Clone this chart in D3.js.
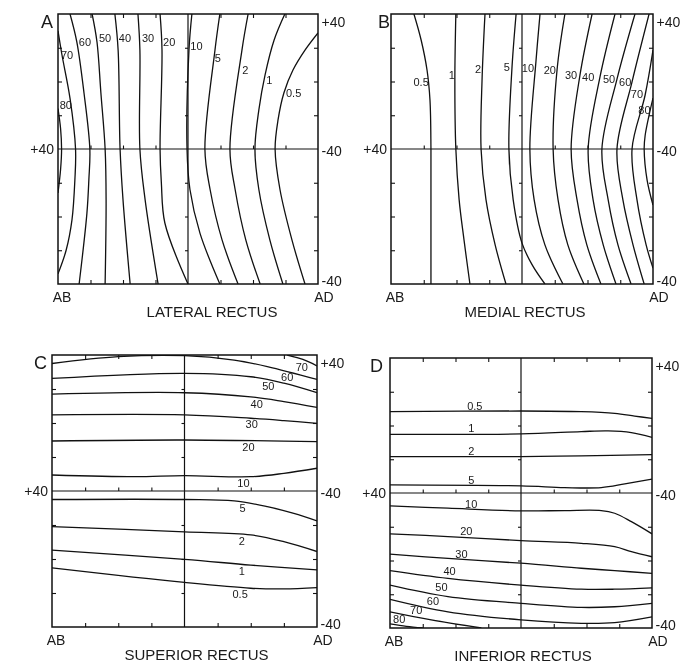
<!DOCTYPE html>
<html>
<head>
<meta charset="utf-8">
<script src="https://cdn.jsdelivr.net/npm/d3@7"></script>
<style>
  body { margin: 0; background: #fff; }
  svg { display: block; will-change: transform; }
  text { font-family: 'Liberation Sans', Arial, sans-serif; fill: #1a1a1a; }
</style>
</head>
<body>
<svg id="viz" width="698" height="664"></svg>
<script>
// all values in degrees: horizontal AB = -40 ... AD = +40, vertical -40 (down) ... +40 (up)
const tickDeg = [-30, -20, -10, 10, 20, 30];
const rightLabels = ['+40', '-40', '-40'];
const rightAt = [40, 0, -40];
const leftLabel = '+40';
const endLabels = ['AB', 'AD'];

// A - lateral rectus
const latLevels = ['80', '70', '60', '50', '40', '30', '20', '10', '5', '2', '1', '0.5'];
const latLines = [
  [[-40, 12], [-39.2, 6], [-38.9, 0], [-39.2, -6], [-40, -13]],
  [[-40, 35], [-38.8, 28], [-36.3, 15], [-34.6, 0], [-34.8, -9], [-35.7, -21], [-37.5, -30], [-40, -37]],
  [[-36.3, 40], [-34.2, 31.7], [-32, 16.6], [-30.2, 0], [-30.5, -9], [-31.1, -19], [-33.5, -40]],
  [[-29.5, 40], [-28, 31.7], [-26.8, 16.6], [-25.5, 0], [-25.2, -15], [-25.5, -40]],
  [[-22.5, 40], [-21.5, 29.3], [-20.9, 0], [-20, -15], [-17.8, -40]],
  [[-15.4, 40], [-14.8, 29.3], [-14.8, 0], [-13.2, -15], [-9.2, -40]],
  [[-8.6, 40], [-8, 29.3], [-8.6, 0], [-8.2, -10], [-7.1, -22], [0, -40]],
  [[1.2, 40], [0.3, 29.3], [-0.3, 0], [0.6, -12], [3.7, -25], [9.8, -40]],
  [[9.8, 40], [8.3, 29.3], [5.2, 0], [6.8, -12], [10.5, -27], [15.4, -40]],
  [[18.5, 40], [16.6, 29.3], [12.9, 0], [14.5, -12], [17.8, -27], [22.2, -40]],
  [[29.8, 40], [26.5, 32.3], [23.7, 21.9], [21.8, 11.6], [20.6, 0], [21.8, -12], [25.2, -27], [29.2, -40]],
  [[40, 34.4], [36, 29.3], [32.3, 23.4], [29.5, 16.6], [27.7, 8.6], [26.8, 0], [28.3, -12], [32, -27], [36, -40]]
];
const latLabelAt = [
  [-37.6, 13], [-37.2, 27.9], [-31.7, 31.7], [-25.5, 32.9], [-19.4, 32.9], [-12.3, 32.9],
  [-5.8, 31.7], [2.6, 30.5], [9.2, 27], [17.6, 23.4], [25, 20.4], [32.5, 16.6]
];

// B - medial rectus
const medLevels = ['0.5', '1', '2', '5', '10', '20', '30', '40', '50', '60', '70', '80'];
const medLines = [
  [[-33, 40], [-30.8, 32.3], [-29, 23.4], [-28.1, 14.5], [-27.8, 0], [-27.8, -18], [-27.8, -40]],
  [[-20.2, 40], [-20.5, 20.4], [-20.2, 0], [-19.2, -15], [-17.7, -27], [-15.9, -40]],
  [[-11.3, 40], [-12.2, 20.4], [-12.5, 0], [-11, -15], [-8.2, -28.4], [-4.9, -40]],
  [[-1.8, 40], [-3.1, 23.4], [-4, 0], [-2.7, -15], [0, -27.9], [3.2, -34.5], [7, -40]],
  [[5.5, 40], [4.3, 26.4], [2.4, 0], [3.7, -15], [7, -28.4], [12.5, -40]],
  [[13.1, 40], [10.7, 23.4], [9.5, 0], [11, -15], [14, -28.4], [18.9, -40]],
  [[21.4, 40], [17.7, 21.9], [15, 0], [16.8, -15], [19.8, -28.4], [24.1, -40]],
  [[28.4, 40], [23.8, 21.3], [20.2, 0], [21.7, -15], [24.8, -28.4], [28.7, -40]],
  [[34.5, 40], [29, 20.7], [24.4, 0], [26.3, -15], [29.3, -28.4], [33.3, -40]],
  [[38.8, 40], [33.6, 19.9], [29, 0], [30.8, -15], [33.9, -28.4], [37.3, -40]],
  [[40, 29.3], [37.6, 16], [33.6, 0], [35.1, -15], [37.9, -28.4], [40, -35.3]],
  [[40, 15.1], [38.8, 10], [37.6, 4], [37.3, 0], [38.2, -9.2], [40, -16.6]]
];
const medLabelAt = [
  [-30.8, 19.9], [-21.4, 21.9], [-13.4, 23.7], [-4.6, 24.3], [1.8, 24], [8.5, 23.4],
  [15, 21.9], [20.2, 21.3], [26.6, 20.7], [31.5, 19.9], [35.1, 16.3], [37.4, 11.6]
];

// C - superior rectus
const supLevels = ['70', '60', '50', '40', '30', '20', '10', '5', '2', '1', '0.5'];
const supLines = [
  [[31, 40], [34, 39.2], [37, 38.2], [40, 36.8]],
  [[-40, 37.5], [-20, 39.5], [0, 39.8], [15, 38.5], [25, 36.6], [40, 32.8]],
  [[-40, 33.1], [0, 34.6], [20, 33.6], [30, 31.7], [40, 28.9]],
  [[-40, 28.5], [0, 28.9], [20, 27.7], [30, 26.3], [40, 24.6]],
  [[-40, 22.4], [0, 22.4], [20, 21.4], [30, 20.7], [40, 19.9]],
  [[-40, 14.7], [0, 15], [40, 14.5]],
  [[-40, 4.7], [-15, 4.2], [0, 4.5], [20, 4.2], [30, 5.2], [40, 6.7]],
  [[-40, -2.5], [0, -2.5], [15, -2.9], [25, -4.6], [33, -6.6], [40, -8.8]],
  [[-40, -10.5], [0, -12], [20, -12.9], [30, -14.9], [40, -17.8]],
  [[-40, -17.4], [0, -20.1], [20, -21.8], [40, -23.2]],
  [[-40, -22.6], [0, -26.9], [20, -28.6], [30, -28.8], [40, -28.4]]
];
const supLabelAt = [
  [35.4, 36.5], [31, 33.4], [25.3, 30.8], [21.8, 25.7], [20.3, 19.6], [19.3, 13],
  [17.8, 2.5], [17.5, -4.9], [17.3, -14.6], [17.3, -23.6], [16.8, -30.4]
];

// D - inferior rectus
const infLevels = ['0.5', '1', '2', '5', '10', '20', '30', '40', '50', '60', '70', '80'];
const infLines = [
  [[-40, 24.1], [0, 24.3], [18.4, 24.1], [28.6, 23.6], [34.7, 22.8], [40, 22.1]],
  [[-40, 17.4], [0, 17.5], [18.4, 18.2], [26.6, 18.4], [33.7, 17.9], [40, 16.5]],
  [[-40, 10.8], [0, 10.8], [18.4, 11], [40, 11.4]],
  [[-40, 2.4], [0, 2.1], [13.3, 1.6], [24.5, 1.6], [31.7, 2.7], [40, 4.1]],
  [[-40, -3.8], [-22.3, -4.5], [0, -5.3], [13.3, -5.2], [24.5, -5.2], [28.6, -6], [33.7, -8.5], [40, -12.1]],
  [[-40, -12.1], [-22.3, -12.9], [0, -14.1], [18.4, -14.9], [28.6, -15.9], [33.7, -17.4], [40, -18.9]],
  [[-40, -18.1], [-22.3, -19.4], [0, -20.8], [18.4, -22.3], [28.6, -23], [40, -23.8]],
  [[-40, -23], [-22.3, -25.3], [0, -27.3], [18.4, -28.5], [28.6, -28.5], [40, -28.1]],
  [[-40, -27.3], [-22.3, -30.7], [0, -32.7], [18.4, -33.9], [28.6, -33.7], [40, -32.7]],
  [[-40, -31.5], [-22.3, -35.2], [0, -37.6], [18.4, -38.6], [28.6, -38.4], [40, -36.7]],
  [[-40, -35.2], [-27.4, -37.6], [-12.1, -40]],
  [[-40, -38.8], [-35, -39.5], [-30, -40]]
];
const infLabelAt = [
  [-14.1, 25.8], [-15.2, 19.2], [-15.2, 12.3], [-15.2, 3.9], [-15.2, -3.2], [-16.7, -11.3],
  [-18.2, -18], [-21.8, -23], [-24.3, -27.8], [-26.9, -31.9], [-32, -34.8], [-37.2, -37.4]
];

const ink = '#111';
const svg = d3.select('#viz');

const panels = [
  { letter: 'A', title: 'LATERAL RECTUS', levels: latLevels, lines: latLines, labelAt: latLabelAt,
    box: [58, 318, 14, 284], titleShift: 24, letterGap: 5 },
  { letter: 'B', title: 'MEDIAL RECTUS', levels: medLevels, lines: medLines, labelAt: medLabelAt,
    box: [391, 653, 14, 284], titleShift: 3, letterGap: 1 },
  { letter: 'C', title: 'SUPERIOR RECTUS', levels: supLevels, lines: supLines, labelAt: supLabelAt,
    box: [52, 317, 355, 627], titleShift: 12, letterGap: 5 },
  { letter: 'D', title: 'INFERIOR RECTUS', levels: infLevels, lines: infLines, labelAt: infLabelAt,
    box: [390, 652, 358, 628], titleShift: 2, letterGap: 7 }
];

panels.forEach(drawPanel);

function drawPanel(p, i) {
  const [x0, x1, y0, y1] = p.box;
  const x = d3.scaleLinear().domain([-40, 40]).range([x0, x1]);
  const y = d3.scaleLinear().domain([-40, 40]).range([y1, y0]);
  const g = svg.append('g');

  const clipId = 'clip' + i;
  g.append('clipPath').attr('id', clipId)
    .append('rect')
    .attr('x', x0).attr('y', y0)
    .attr('width', x1 - x0).attr('height', y1 - y0);

  // contour lines
  const line = d3.line()
    .x((d) => x(d[0]))
    .y((d) => y(d[1]))
    .curve(d3.curveCatmullRom.alpha(0.5));

  g.append('g')
    .attr('clip-path', `url(#${clipId})`)
    .selectAll('path')
    .data(p.lines)
    .join('path')
    .attr('d', line)
    .attr('fill', 'none')
    .attr('stroke', ink)
    .attr('stroke-width', 1.3);

  // cross lines through the primary position
  g.append('line')
    .attr('x1', x(-40)).attr('x2', x(40))
    .attr('y1', y(0)).attr('y2', y(0))
    .attr('stroke', ink).attr('stroke-width', 1.2);
  g.append('line')
    .attr('x1', x(0)).attr('x2', x(0))
    .attr('y1', y(-40)).attr('y2', y(40))
    .attr('stroke', ink).attr('stroke-width', 1.2);

  // frame
  g.append('rect')
    .attr('x', x0).attr('y', y0)
    .attr('width', x1 - x0).attr('height', y1 - y0)
    .attr('fill', 'none')
    .attr('stroke', ink)
    .attr('stroke-width', 1.5);

  // tick marks (10 degree steps)
  const tick = (axis, tx, ty, size) => {
    const a = g.append('g')
      .attr('transform', `translate(${tx},${ty})`)
      .call(axis.tickValues(tickDeg).tickSize(size).tickFormat(''));
    a.select('.domain').remove();
    a.selectAll('line').attr('stroke', ink).attr('stroke-width', 1.1);
  };
  tick(d3.axisBottom(x), 0, y0, 4);
  tick(d3.axisTop(x), 0, y1, 4);
  tick(d3.axisTop(x), 0, y(0), 3.5);
  tick(d3.axisRight(y), x0, 0, 4);
  tick(d3.axisLeft(y), x1, 0, 4);
  tick(d3.axisLeft(y), x(0), 0, 3);

  // contour values
  g.selectAll('text.lvl')
    .data(p.levels)
    .join('text')
    .attr('class', 'lvl')
    .attr('x', (d, k) => x(p.labelAt[k][0]))
    .attr('y', (d, k) => y(p.labelAt[k][1]))
    .attr('text-anchor', 'middle')
    .attr('dominant-baseline', 'central')
    .style('font-size', '11px')
    .text((d) => d);

  // side labels
  const shift = [8, 1.5, -3.5];
  g.selectAll('text.side')
    .data(rightLabels)
    .join('text')
    .attr('class', 'side')
    .attr('x', x1 + 3.5)
    .attr('y', (d, k) => y(rightAt[k]) + shift[k])
    .attr('dominant-baseline', 'central')
    .style('font-size', '14px')
    .text((d) => d);

  g.append('text')
    .attr('x', x0 - 4)
    .attr('y', y(0))
    .attr('text-anchor', 'end')
    .attr('dominant-baseline', 'central')
    .style('font-size', '14px')
    .text(leftLabel);

  g.selectAll('text.end')
    .data(endLabels)
    .join('text')
    .attr('class', 'end')
    .attr('x', (d, k) => (k === 0 ? x0 + 4 : x1 + 6))
    .attr('y', y1 + 18)
    .attr('text-anchor', 'middle')
    .style('font-size', '14px')
    .text((d) => d);

  // panel letter
  g.append('text')
    .attr('x', x0 - p.letterGap)
    .attr('y', y0 + 14)
    .attr('text-anchor', 'end')
    .style('font-size', '18px')
    .text(p.letter);

  // title
  g.append('text')
    .attr('x', (x0 + x1) / 2 + p.titleShift)
    .attr('y', y1 + 33)
    .attr('text-anchor', 'middle')
    .style('font-size', '15px')
    .text(p.title);
}
</script>
</body>
</html>
